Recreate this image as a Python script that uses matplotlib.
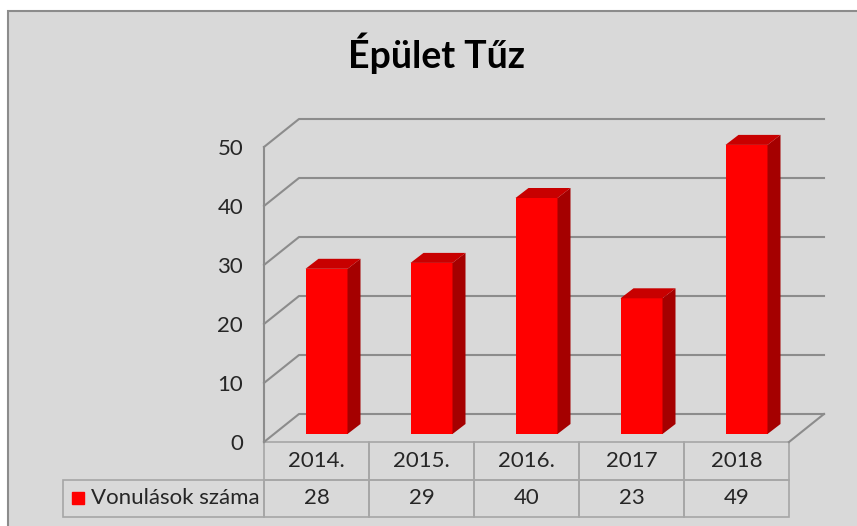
import matplotlib
matplotlib.use("Agg")
import matplotlib.pyplot as plt
from matplotlib.patches import Polygon, Rectangle
from matplotlib.table import Table
from matplotlib.transforms import ScaledTranslation

# chart data
title = "Épület Tűz"
series_name = "Vonulások száma"
years = ["2014.", "2015.", "2016.", "2017", "2018"]
counts = [28, 29, 40, 23, 49]
y_ticks = [0, 10, 20, 30, 40, 50]

W, H, DPI = 857, 526, 100
BG = "#d9d9d9"
GRID = "#8c8c8c"
TXT = "#262626"

plt.rcParams['font.family'] = ['Lato', 'DejaVu Sans']

fig = plt.figure(figsize=(W / DPI, H / DPI), dpi=DPI, facecolor="white")
fig.patches.append(Rectangle((8 / W, -0.1), 1.0, 1.1 - 11 / H, transform=fig.transFigure,
                             facecolor=BG, edgecolor=GRID, lw=1.5, zorder=-1))

# front plane of the 3d box
ax = fig.add_axes([264 / W, (H - 442) / H, 525 / W, 295 / H])
ax.patch.set_visible(False)
for s in ax.spines.values():
	s.set_visible(False)

px_cat = 525 / 5        # pixels per category
px_val = 295 / 50       # pixels per unit
wall_dx, wall_dy = 35 / px_cat, 28 / px_val
depth_dx, depth_dy = 13 / px_cat, 10 / px_val
bar_w = 0.4

# walls and gridlines
for t in y_ticks:
	ax.plot([-0.5, -0.5 + wall_dx, 4.5 + wall_dx], [t, t + wall_dy, t + wall_dy],
			color=GRID, lw=1.5, clip_on=False, zorder=1)
ax.plot([4.5, 4.5 + wall_dx], [0, wall_dy], color=GRID, lw=1.5, clip_on=False, zorder=1)
ax.plot([-0.5, -0.5], [0, 50], color=GRID, lw=1.5, clip_on=False, zorder=1)

# bars sit a bit inside the box
shift = ax.transData + ScaledTranslation(10 / DPI, 8 / DPI, fig.dpi_scale_trans)
xs = list(range(len(counts)))
bars = ax.bar(xs, counts, width=bar_w, color="#ff0000", zorder=3, clip_on=False)
for b in bars:
	b.set_transform(shift)
for x, v in zip(xs, counts):
	r = x + bar_w / 2
	l = x - bar_w / 2
	ax.add_patch(Polygon([(r, 0), (r, v), (r + depth_dx, v + depth_dy), (r + depth_dx, depth_dy)],
						 closed=True, facecolor="#a50000", edgecolor="none",
						 transform=shift, clip_on=False, zorder=3))
	ax.add_patch(Polygon([(l, v), (r, v), (r + depth_dx, v + depth_dy), (l + depth_dx, v + depth_dy)],
						 closed=True, facecolor="#c80000", edgecolor="none",
						 transform=shift, clip_on=False, zorder=3))

ax.set_xlim(-0.5, 4.5)
ax.set_ylim(0, 50)
ax.set_xticks([])
ax.set_yticks(y_ticks)
ax.tick_params(axis='y', length=0, pad=15, labelsize=16, labelcolor=TXT)

# data table (bbox covers only the year columns, the label cell hangs to the left)
lab_w = 201 / 525
tbl = Table(ax, bbox=[0, -75 / 295, 1, 75 / 295])
for c, (yr, n) in enumerate(zip(years, counts)):
	tbl.add_cell(0, c, width=0.2, height=0.5, text=yr, loc='center')
	tbl.add_cell(1, c, width=0.2, height=0.5, text=str(n), loc='center')
tbl.add_cell(1, -1, width=lab_w, height=0.5, text=series_name, loc='left')
tbl.auto_set_font_size(False)
tbl.set_fontsize(16)
for (r, c), cell in tbl.get_celld().items():
	cell.set_edgecolor("#a6a6a6")
	cell.set_facecolor("none")
	cell.set_linewidth(1.2)
	cell.get_text().set_color(TXT)
	if c == -1:
		cell.PAD = 28 / 201
ax.add_table(tbl)
ax.plot([-186 / 525], [-56 / 295], marker='s', ms=8.6, color="#ff0000",
		transform=ax.transAxes, clip_on=False, zorder=5)

fig.text(437 / W, 1 - 68 / H, title, ha='center', va='baseline', fontsize=27,
		 fontweight='bold', color='black')

fig.savefig("out.png", dpi=DPI, facecolor="white")
